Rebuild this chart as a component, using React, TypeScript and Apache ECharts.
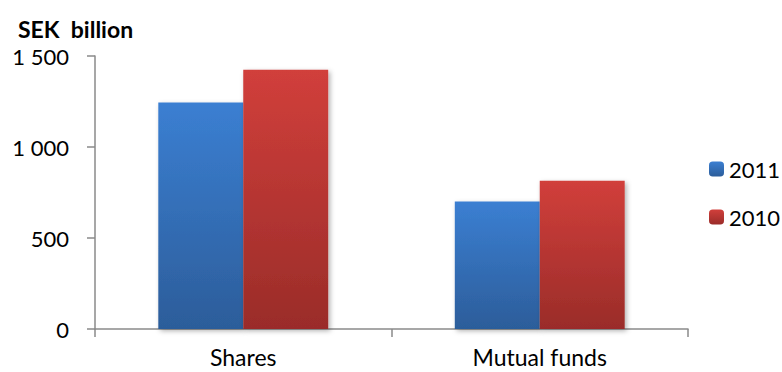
import React, { useEffect, useRef } from "react";
import * as echarts from "echarts";

const categories = ["Shares", "Mutual funds"];
const seriesNames = ["2011", "2010"];
const values2011 = [1245, 700];
const values2010 = [1425, 815];
const yTicks = [0, 500, 1000, 1500];

const FONT = "Lato";

function grad(top: string, bottom: string) {
  return new echarts.graphic.LinearGradient(0, 0, 0, 1, [
    { offset: 0, color: top },
    { offset: 1, color: bottom },
  ]);
}

function fmt(v: number) {
  const s = String(v);
  return s.length > 3 ? s.slice(0, s.length - 3) + " " + s.slice(-3) : s;
}

export default function App() {
  const ref = useRef<HTMLDivElement>(null);

  useEffect(() => {
    if (!ref.current) return;
    const chart = echarts.init(ref.current, undefined, { renderer: "svg" });
    const axisLine = { lineStyle: { color: "#8a8a8a", width: 1.5 } };
    const shadow = {
      shadowBlur: 5,
      shadowColor: "rgba(0,0,0,0.3)",
      shadowOffsetX: 2,
      shadowOffsetY: 2,
    };
    chart.setOption({
      animation: false,
      backgroundColor: "#ffffff",
      textStyle: { fontFamily: FONT, color: "#000" },
      title: {
        text: "SEK  billion",
        left: 13,
        top: 12,
        textStyle: { fontFamily: FONT, fontSize: 23, fontWeight: "bold", color: "#000" },
      },
      legend: {
        orient: "vertical",
        left: 704,
        top: 153,
        itemWidth: 15,
        itemHeight: 15,
        itemGap: 26,
        data: seriesNames,
        textStyle: { fontFamily: FONT, fontSize: 22, color: "#000", padding: [0, 0, 0, 0] },
      },
      grid: { left: 95, right: 94, top: 56, bottom: 43, containLabel: false },
      xAxis: {
        type: "category",
        data: categories,
        axisLine,
        axisTick: { show: true, alignWithLabel: false, length: 8, lineStyle: { color: "#8a8a8a", width: 1.5 } },
        axisLabel: { fontFamily: FONT, fontSize: 23, lineHeight: 22, color: "#000", margin: 17 },
        splitLine: { show: false },
      },
      yAxis: {
        type: "value",
        min: 0,
        max: 1500,
        interval: 500,
        axisLine: { show: true, ...axisLine },
        axisTick: { show: true, length: 8, lineStyle: { color: "#8a8a8a", width: 1.5 } },
        axisLabel: {
          fontFamily: FONT,
          fontSize: 22,
          color: "#000",
          margin: 26,
          formatter: (v: number) => (yTicks.includes(v) ? fmt(v) : ""),
        },
        splitLine: { show: false },
      },
      series: [
        {
          name: seriesNames[0],
          type: "bar",
          data: values2011,
          barGap: "0%",
          barCategoryGap: "42.7%",
          itemStyle: { color: grad("#3b7fd2", "#2c5d9a"), ...shadow },
        },
        {
          name: seriesNames[1],
          type: "bar",
          data: values2010,
          barGap: "0%",
          barCategoryGap: "42.7%",
          itemStyle: { color: grad("#d13f3b", "#9a2c29"), ...shadow },
        },
      ],
    });
    return () => chart.dispose();
  }, []);

  return (
    <div
      ref={ref}
      style={{ position: "fixed", left: 0, top: 0, width: 782, height: 372 }}
    />
  );
}
